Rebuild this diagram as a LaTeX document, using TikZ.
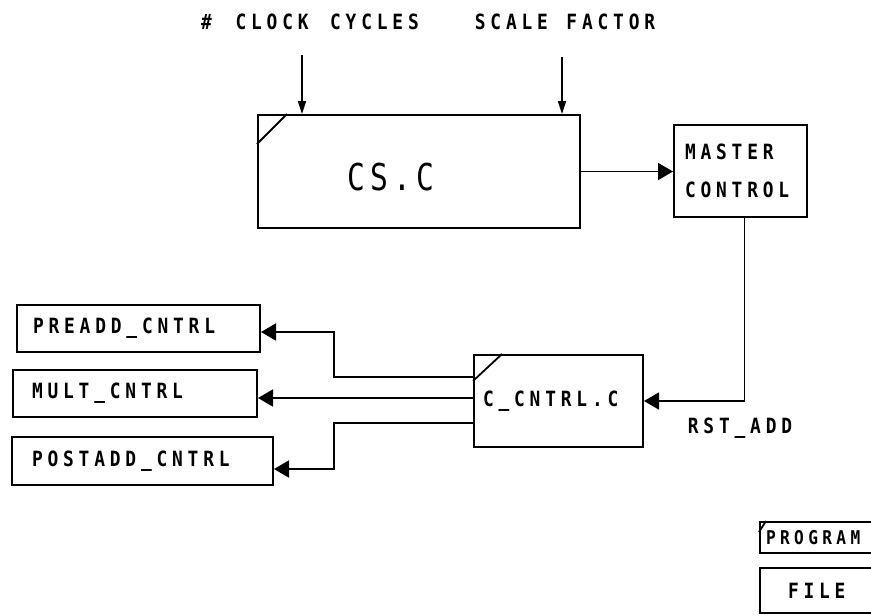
\documentclass[tikz,border=0pt]{standalone}
\usepackage{fontspec}
\newfontfamily\plotfont{DejaVu Sans Mono}[LetterSpace=23,FakeStretch=0.85]
\newfontfamily\bigplotfont{DejaVu Sans Mono}[LetterSpace=14,FakeStretch=0.8]
\usetikzlibrary{arrows.meta}
\tikzset{
  plot/.style={font=\plotfont\bfseries\fontsize{21}{38}\selectfont},
  blk/.style={draw, line width=2pt, inner ysep=0pt, align=left, plot},
  lbl/.style={inner sep=0pt, plot},
  arr/.style={line width=1.8pt, -{Triangle[length=15pt,width=17pt]}},
  darr/.style={line width=1.8pt, -{Triangle[length=13pt,width=8pt]}},
  corner/.style={line width=1.8pt}
}
\begin{document}
\begin{tikzpicture}[x=1pt,y=-1pt]
  \clip (0,0) rectangle (871,616);
  \fill[white] (0,0) rectangle (871,616);
  \node[lbl] (clklbl) at (310,22) {\#\hspace{8pt} CLOCK\hspace{6pt} CYCLES};
  \node[lbl] (scflbl) at (565,22) {SCALE\hspace{3pt} FACTOR};
  \coordinate (clk) at (302,55);
  \coordinate (scf) at (562,57);
  \node[draw, line width=2pt, minimum width=322pt, minimum height=113pt] (csc) at (419,171.5) {};
  \node[inner sep=0pt, font=\bigplotfont\fontsize{37}{40}\selectfont] (csclbl) at (391,177) {CS.C};
  \draw[corner] ([yshift=-30pt]csc.north west) -- ([xshift=30pt]csc.north west);
  \node[blk, inner xsep=11pt, text width=111pt, minimum height=92pt] (master) at (740.5,171) {MASTER\\CONTROL};
  \node[blk, inner xsep=9pt, text width=151pt, minimum height=92pt] (cctrl) at (558.5,401) {C\_CNTRL.C};
  \draw[corner] ([yshift=-27pt]cctrl.north west) -- ([xshift=29pt]cctrl.north west);
  \node[lbl] (rst) at (740,428) {RST\_ADD};
  \node[blk, inner xsep=16pt, text width=211pt, minimum height=47pt] (preadd) at (138.5,328.5) {PREADD\_CNTRL};
  \node[blk, inner xsep=19pt, text width=206pt, minimum height=47pt] (mult) at (135,393.5) {MULT\_CNTRL};
  \node[blk, inner xsep=20pt, text width=221pt, minimum height=48pt] (postadd) at (142.5,461) {POSTADD\_CNTRL};
  \node[blk, inner xsep=6pt, text width=128pt, minimum height=31pt, font=\plotfont\bfseries\fontsize{19}{20}\selectfont] (prog) at (830,537.5) {PROGRAM};
  \draw[corner] ([yshift=-11pt]prog.north west) -- ([xshift=7pt]prog.north west);
  \node[blk, inner xsep=28pt, text width=84pt, minimum height=45pt] (file) at (830,590.5) {FILE};
  \draw[darr] (clk) -- (clk |- csc.north);
  \draw[darr] (scf) -- (scf |- csc.north);
  \draw[arr] (csc.east) -- (csc.east -| master.west);
  \draw[arr] ([xshift=4pt]master.south) |- (cctrl.east);
  \draw[arr] ([yshift=24pt]cctrl.west) -- ++(-139,0) |- ([yshift=-3.5pt]preadd.east);
  \draw[arr] ([yshift=3pt]cctrl.west) -- ([yshift=3pt]cctrl.west -| mult.east);
  \draw[arr] ([yshift=-22pt]cctrl.west) -- ++(-139,0) |- ([yshift=-8pt]postadd.east);
\end{tikzpicture}
\end{document}
